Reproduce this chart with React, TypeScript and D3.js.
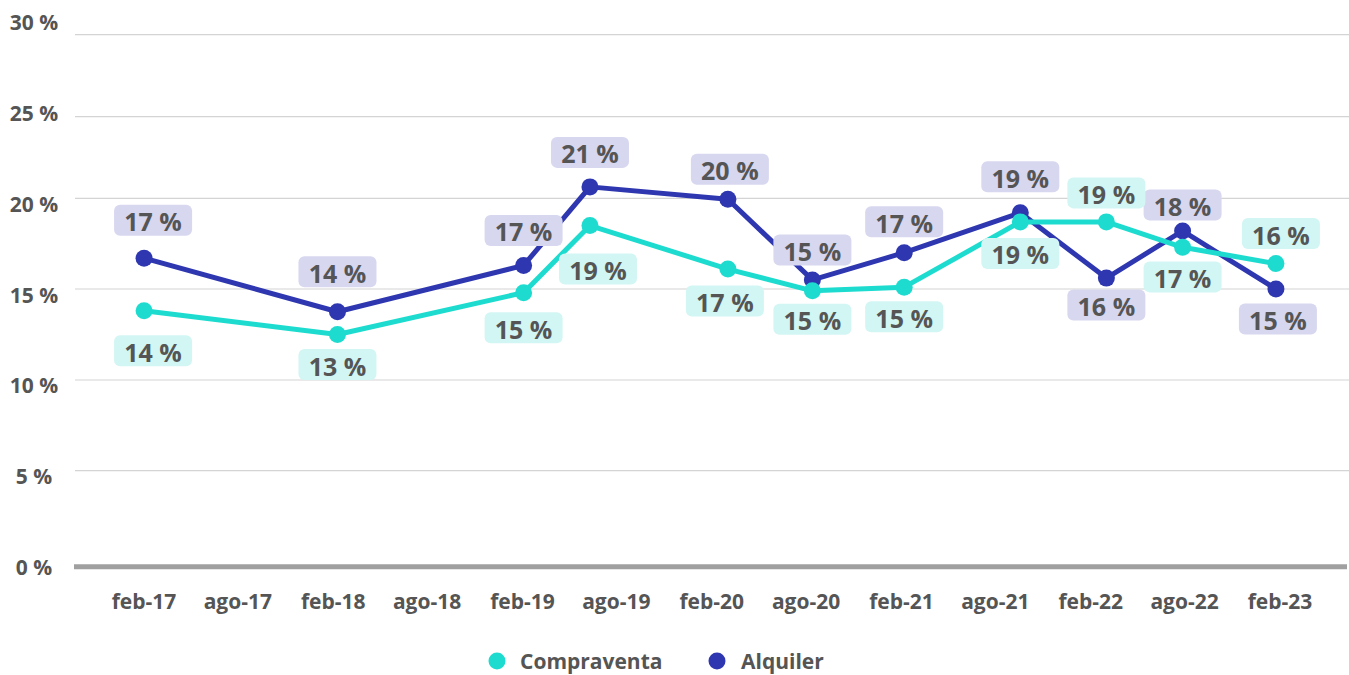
import React from 'react';
import * as d3 from 'd3';

// data
const dates = [
  '2017-02-05', '2018-02-13', '2019-02-07', '2019-06-15', '2020-03-07', '2020-08-17',
  '2021-02-10', '2021-09-22', '2022-03-07', '2022-08-01', '2023-01-28',
];
const compraventa = [13.8, 12.5, 14.8, 18.5, 16.1, 14.9, 15.1, 18.7, 18.7, 17.3, 16.4];
const alquiler = [16.7, 13.75, 16.3, 20.7, 19.95, 15.5, 17.0, 19.2, 15.6, 18.2, 15.0];
const compraventaLabels = [14, 13, 15, 19, 17, 15, 15, 19, 19, 17, 16];
const alquilerLabels = [17, 14, 17, 21, 20, 15, 17, 19, 16, 18, 15];
const xTickLabels = [
  'feb-17', 'ago-17', 'feb-18', 'ago-18', 'feb-19', 'ago-19', 'feb-20',
  'ago-20', 'feb-21', 'ago-21', 'feb-22', 'ago-22', 'feb-23',
];
const yTicks = [0, 5, 10, 15, 20, 25, 30];

// label placement (signed offset from the point)
const compraventaLabelDy = [40, 30, 35, 43.5, 32, 28.5, 29.6, 31.6, -29, 29.6, -30];
const alquilerLabelDy = [-38, -40, -35, -34.5, -30, -30, -31, -36, 27, -26, 30];
const compraventaLabelDx = [9, 0, 0, 8, -3, 0, 0, 0, 0, 0, 5];
const alquilerLabelDx = [9, 0, 0, 0, 2, 0, 0, 0, 0, 0, 2];

const W = 1349;
const H = 675;
const FONT = "'Open Sans', sans-serif";
const TEXT = '#555555';

const parse = d3.timeParse('%Y-%m-%d');
const monthNames: Record<string, number> = { feb: 1, ago: 7 };

export default function App() {
  const x = d3
    .scaleTime()
    .domain([new Date(2017, 1, 1), new Date(2023, 1, 1)])
    .range([142, 1278]);
  // gridlines in the source are not evenly spaced
  const y = d3
    .scaleLinear()
    .domain(yTicks)
    .range([566.7, 470.7, 380, 289, 198.3, 116.7, 34.7]);
  const yLabel = d3.scaleLinear().domain([0, 30]).range([567, 22]);

  const series = [
    { name: 'Alquiler', values: alquiler, labels: alquilerLabels, dy: alquilerLabelDy, dx: alquilerLabelDx, color: '#2e37b0', box: '#d7d7f0' },
    { name: 'Compraventa', values: compraventa, labels: compraventaLabels, dy: compraventaLabelDy, dx: compraventaLabelDx, color: '#1ddccf', box: '#d2f6f3' },
  ];

  const line = d3
    .line<number>()
    .x((_, i) => x(parse(dates[i])!))
    .y((d) => y(d));

  const tickDates = xTickLabels.map((t) => {
    const [m, yy] = t.split('-');
    return new Date(2000 + +yy, monthNames[m], 1);
  });

  return (
    <svg
      width={W}
      height={H}
      style={{ position: 'absolute', left: 0, top: 0, background: '#fff' }}
      fontFamily={FONT}
    >
      {yTicks.map((t) => (
        <g key={t}>
          {t > 0 && (
            <line x1={75} x2={W} y1={y(t)} y2={y(t)} stroke="#d4d4d4" strokeWidth={1.2} />
          )}
          <text
            x={34}
            y={yLabel(t)}
            textAnchor="middle"
            dominantBaseline="central"
            fontSize={21}
            fontWeight={700}
            fill={TEXT}
          >
            {t} %
          </text>
        </g>
      ))}
      <line x1={74} x2={1347} y1={y(0)} y2={y(0)} stroke="#a0a0a0" strokeWidth={5} />

      {tickDates.map((d, i) => (
        <text
          key={xTickLabels[i]}
          x={x(d) + 2}
          y={601}
          textAnchor="middle"
          dominantBaseline="central"
          fontSize={21}
          fontWeight={700}
          fill={TEXT}
        >
          {xTickLabels[i]}
        </text>
      ))}

      {series.map((s) => (
        <g key={s.name}>
          <path d={line(s.values)!} fill="none" stroke={s.color} strokeWidth={5} strokeLinejoin="round" />
          {s.values.map((v, i) => (
            <circle key={i} cx={x(parse(dates[i])!)} cy={y(v)} r={8.5} fill={s.color} />
          ))}
        </g>
      ))}

      {series.map((s) => (
        <g key={s.name + '-labels'}>
          {s.values.map((v, i) => {
            const cx = x(parse(dates[i])!) + s.dx[i];
            const cy = y(v) + s.dy[i];
            return (
              <g key={i}>
                <rect x={cx - 39} y={cy - 15.5} width={78} height={31} rx={6} fill={s.box} />
                <text
                  x={cx}
                  y={cy + 1}
                  textAnchor="middle"
                  dominantBaseline="central"
                  fontSize={25}
                  fontWeight={700}
                  fill={TEXT}
                >
                  {s.labels[i]} %
                </text>
              </g>
            );
          })}
        </g>
      ))}

      <g>
        <circle cx={497} cy={661} r={8.5} fill="#1ddccf" />
        <text x={520} y={669} fontSize={21} fontWeight={700} fill={TEXT}>
          Compraventa
        </text>
        <circle cx={717} cy={661} r={8.5} fill="#2e37b0" />
        <text x={741} y={669} fontSize={21} fontWeight={700} fill={TEXT}>
          Alquiler
        </text>
      </g>
    </svg>
  );
}
